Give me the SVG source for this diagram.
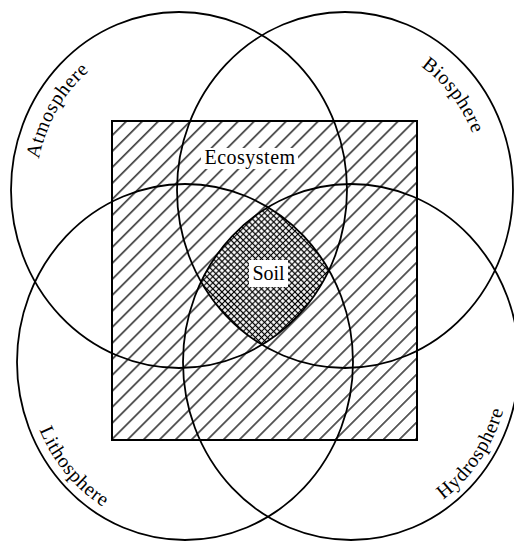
<svg xmlns="http://www.w3.org/2000/svg" xmlns:xlink="http://www.w3.org/1999/xlink" width="514" height="543" viewBox="0 0 514 543">
<style>
.ring{fill:none;stroke:#000;stroke-width:1.8}
.lbl{font-family:"Liberation Serif","DejaVu Serif",serif;font-size:20px;letter-spacing:0.6px;fill:#000}
.box{fill:#fff;stroke:none}
</style>
<defs>
<pattern id="hatch" patternUnits="userSpaceOnUse" width="11.3" height="11.3" patternTransform="rotate(45)">
<line x1="5.6" y1="0" x2="5.6" y2="11.3" stroke="#000" stroke-width="1.25"/>
</pattern>
<pattern id="cross" patternUnits="userSpaceOnUse" width="4.3" height="4.3" patternTransform="rotate(45)">
<path d="M2.15 0V4.3M0 2.15H4.3" stroke="#000" stroke-width="1.1" fill="none"/>
</pattern>
<clipPath id="c1"><ellipse cx="179" cy="190" rx="168" ry="178"/></clipPath>
<clipPath id="c2"><ellipse cx="345" cy="190" rx="168" ry="178"/></clipPath>
<clipPath id="c3"><ellipse cx="185" cy="362" rx="168" ry="178"/></clipPath>
<clipPath id="c4"><ellipse cx="351" cy="362" rx="168" ry="178"/></clipPath>
<path id="pAtm" d="M37.4 211.3 A143 153 0 0 1 134.8 44.5"/>
<path id="pBio" d="M369 44.3 A138 148 0 0 1 483 190"/>
<path id="pLit" d="M26.1 367.9 A159 169 0 0 0 162.9 529.4"/>
<path id="pHyd" d="M389.5 526 A159 169 0 0 0 509.6 350.2"/>
</defs>
<rect width="514" height="543" fill="#fff"/>
<g id="ecosystem">
<rect x="112" y="121" width="305" height="319" fill="#fff"/>
<rect x="112" y="121" width="305" height="319" fill="url(#hatch)"/>
<rect x="112" y="121" width="305" height="319" fill="none" stroke="#000" stroke-width="2"/>
</g>
<g id="soil">
<g clip-path="url(#c1)"><g clip-path="url(#c2)"><g clip-path="url(#c3)"><g clip-path="url(#c4)">
<rect x="150" y="180" width="230" height="190" fill="#fff"/>
<rect x="150" y="180" width="230" height="190" fill="url(#cross)"/>
</g></g></g></g>
</g>
<g id="connectors">
<ellipse id="atmosphere" class="ring" cx="179" cy="190" rx="168" ry="178"/>
<ellipse id="biosphere" class="ring" cx="345" cy="190" rx="168" ry="178"/>
<ellipse id="lithosphere" class="ring" cx="185" cy="362" rx="168" ry="178"/>
<ellipse id="hydrosphere" class="ring" cx="351" cy="362" rx="168" ry="178"/>
</g>
<g id="labels">
<rect class="box" x="201" y="148" width="97" height="21"/>
<text class="lbl" x="250" y="164" text-anchor="middle" style="letter-spacing:0.5px">Ecosystem</text>
<rect class="box" x="249" y="260" width="39" height="27"/>
<text class="lbl" x="268.5" y="280" text-anchor="middle" style="letter-spacing:0">Soil</text>
<text class="lbl"><textPath xlink:href="#pAtm" href="#pAtm" startOffset="50%" text-anchor="middle">Atmosphere</textPath></text>
<text class="lbl"><textPath xlink:href="#pBio" href="#pBio" startOffset="50%" text-anchor="middle">Biosphere</textPath></text>
<text class="lbl"><textPath xlink:href="#pLit" href="#pLit" startOffset="50%" text-anchor="middle">Lithosphere</textPath></text>
<text class="lbl"><textPath xlink:href="#pHyd" href="#pHyd" startOffset="50%" text-anchor="middle">Hydrosphere</textPath></text>
</g>
</svg>
